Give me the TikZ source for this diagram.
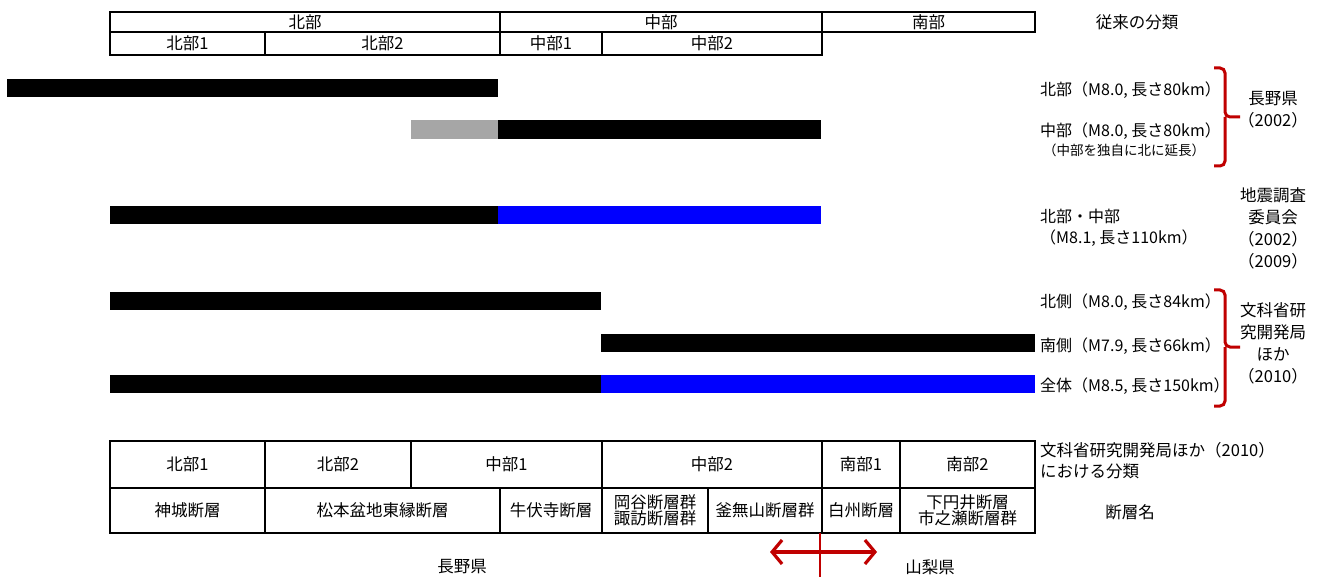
\documentclass[tikz,border=0pt]{standalone}
\usepackage{fontspec}
\setmainfont{Noto Sans CJK JP}
\usetikzlibrary{arrows.meta}
\definecolor{darkred}{HTML}{C00000}
\definecolor{bargray}{HTML}{A6A6A6}
\definecolor{barblue}{HTML}{0000FF}
\newcommand\cellnode[6]{\node[cellbox,minimum width=#4pt,minimum height=#5pt] (#1) at (#2,#3) {#6};}
\newcommand\barnode[6]{\node[barbox,fill=#6,minimum width=#4pt,minimum height=#5pt] (#1) at (#2,#3) {};}
\begin{document}
\begin{tikzpicture}[x=1pt,y=-1pt,
  cellbox/.style={draw=black,line width=1.6pt,inner sep=0pt,outer sep=0pt,align=center,font=\fontsize{16.5}{15.5}\selectfont},
  barbox/.style={draw=none,inner sep=0pt,outer sep=0pt},
  lbl/.style={anchor=west,inner sep=0pt,font=\fontsize{16}{20}\selectfont},
  smalllbl/.style={anchor=west,inner sep=0pt,font=\fontsize{13.5}{16}\selectfont},
  grp/.style={align=center,inner sep=0pt,font=\fontsize{16.5}{22}\selectfont},
  plain/.style={inner sep=0pt,font=\fontsize{16.5}{19}\selectfont},
  bracestyle/.style={draw=darkred,line width=3pt,rounded corners=5pt},
  redline/.style={draw=darkred,line width=2pt},
  redarrow/.style={draw=darkred,line width=3.2pt,arrows={Straight Barb[length=10pt,width=24pt]-Straight Barb[length=10pt,width=24pt]}}
]
\useasboundingbox (0,0) rectangle (1320,577);
\fill[white] (0,0) rectangle (1320,577);

% top table
\cellnode{tN}{305}{22}{390}{20}{北部}
\cellnode{tC}{661}{22}{322}{20}{中部}
\cellnode{tS}{928.5}{22}{213}{20}{南部}
\cellnode{tN1}{187.5}{43.5}{155}{23}{北部1}
\cellnode{tN2}{382.5}{43.5}{235}{23}{北部2}
\cellnode{tC1}{551}{43.5}{102}{23}{中部1}
\cellnode{tC2}{712}{43.5}{220}{23}{中部2}
\node[plain] (conv) at (1137,22) {従来の分類};

% bars
\barnode{b1}{252.5}{88}{491}{18}{black}
\barnode{b2g}{454.5}{129.5}{87}{19}{bargray}
\barnode{b2}{659.5}{129.5}{323}{19}{black}
\barnode{b3a}{304}{215}{388}{18}{black}
\barnode{b3b}{659.5}{215}{323}{18}{barblue}
\barnode{b4}{355.5}{301}{491}{18}{black}
\barnode{b5}{818}{343}{434}{18}{black}
\barnode{b6a}{355.5}{384}{491}{18}{black}
\barnode{b6b}{818}{384}{434}{18}{barblue}

% right labels
\node[lbl] (l1) at (1040,90) {北部（M8.0, 長さ80km）};
\node[lbl] (l2) at (1040,131) {中部（M8.0, 長さ80km）};
\node[smalllbl] (l2s) at (1043,150) {（中部を独自に北に延長）};
\node[lbl] (l3) at (1040,216) {北部・中部};
\node[lbl] (l3b) at (1040,238) {（M8.1, 長さ110km）};
\node[lbl] (l4) at (1040,302) {北側（M8.0, 長さ84km）};
\node[lbl] (l5) at (1040,346) {南側（M7.9, 長さ66km）};
\node[lbl] (l6) at (1040,386) {全体（M8.5, 長さ150km）};

\node[grp] (g1) at (1273,109.5) {長野県\\（2002）};
\node[grp] (g2) at (1273,228) {地震調査\\委員会\\（2002）\\（2009）};
\node[grp] (g3) at (1273,343) {文科省研\\究開発局\\ほか\\（2010）};

% braces
\coordinate (br1t) at (1214,68);
\coordinate (br1m) at (1225,117);
\coordinate (br1tip) at (1240,117);
\coordinate (br1b) at (1214,166);
\draw[bracestyle] (br1t) -| (br1m) -- (br1tip);
\draw[bracestyle] (br1m) |- (br1b);
\coordinate (br2t) at (1214,290);
\coordinate (br2m) at (1225,347);
\coordinate (br2tip) at (1240,347);
\coordinate (br2b) at (1214,406);
\draw[bracestyle] (br2t) -| (br2m) -- (br2tip);
\draw[bracestyle] (br2m) |- (br2b);

% bottom table
\cellnode{bN1}{187.5}{464.5}{155}{47}{北部1}
\cellnode{bN2}{338}{464.5}{146}{47}{北部2}
\cellnode{bC1}{506.5}{464.5}{191}{47}{中部1}
\cellnode{bC2}{712}{464.5}{220}{47}{中部2}
\cellnode{bS1}{861}{464.5}{78}{47}{南部1}
\cellnode{bS2}{967.5}{464.5}{135}{47}{南部2}
\cellnode{f1}{187.5}{510.5}{155}{45}{神城断層}
\cellnode{f2}{382.5}{510.5}{235}{45}{松本盆地東縁断層}
\cellnode{f3}{551}{510.5}{102}{45}{牛伏寺断層}
\cellnode{f4}{655}{510.5}{106}{45}{岡谷断層群\\諏訪断層群}
\cellnode{f5}{765}{510.5}{114}{45}{釜無山断層群}
\cellnode{f6}{861}{510.5}{78}{45}{白州断層}
\cellnode{f7}{967.5}{510.5}{135}{45}{下円井断層\\市之瀬断層群}

\node[lbl,align=left,anchor=north west,font=\fontsize{16.5}{21}\selectfont] (cls) at (1040,442) {文科省研究開発局ほか（2010）\\における分類};
\node[plain] (fname) at (1130,512) {断層名};

% prefecture border
\coordinate (vT) at (820,533);
\coordinate (vB) at (820,577);
\draw[redline] (vT) -- (vB);
\coordinate (arL) at (770,552);
\coordinate (arR) at (877,552);
\draw[redarrow] (arL) -- (arR);
\node[plain] (nagano) at (462,567) {長野県};
\node[plain] (yamanashi) at (930,567) {山梨県};
\end{tikzpicture}
\end{document}
